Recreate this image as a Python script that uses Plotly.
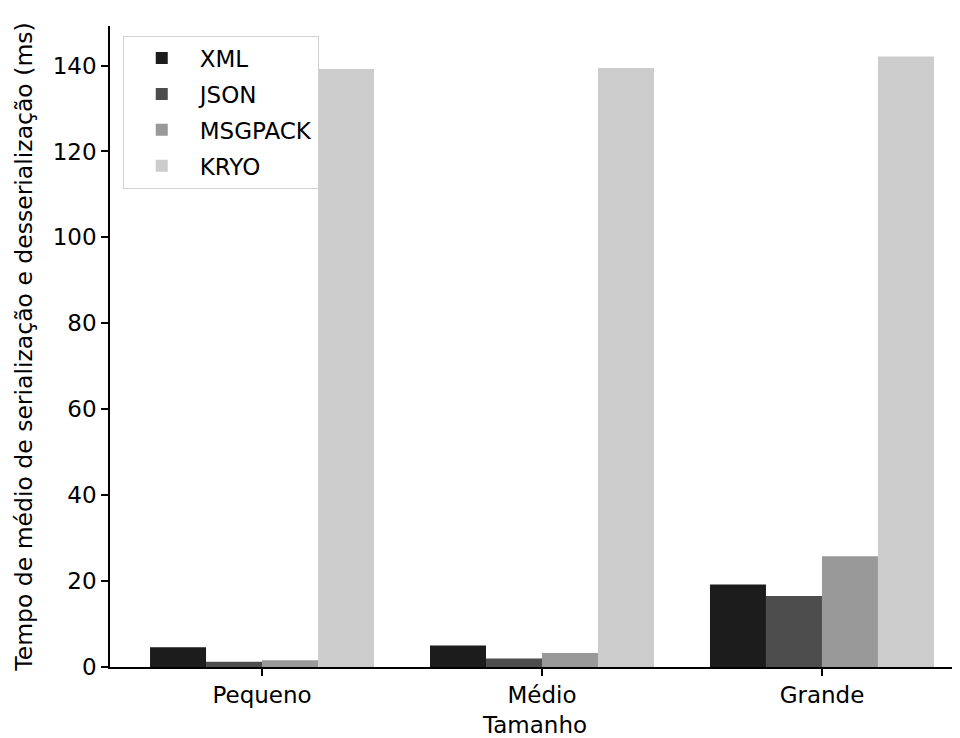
import plotly.graph_objects as go

categories = ["Pequeno", "Médio", "Grande"]
series_names = ["XML", "JSON", "MSGPACK", "KRYO"]
xml_vals = [4.6, 5.0, 19.2]
json_vals = [1.25, 2.0, 16.5]
msgpack_vals = [1.55, 3.25, 25.8]
kryo_vals = [139.2, 139.4, 142.1]
colors = ["#1c1c1c", "#4d4d4d", "#999999", "#cccccc"]

values = [xml_vals, json_vals, msgpack_vals, kryo_vals]
fig = go.Figure()
bar_w = 0.2
for i, (name, vals, col) in enumerate(zip(series_names, values, colors)):
    offset = (i - 1.5) * bar_w
    fig.add_trace(go.Bar(
        x=[k + offset for k in range(len(categories))],
        y=vals, name=name, width=bar_w, legendgroup=name,
        marker=dict(color=col, line=dict(width=0)),
    ))

font = "DejaVu Sans"
fig.update_layout(
    width=952, height=730,
    margin=dict(l=102, r=0, t=18, b=71, autoexpand=False),
    paper_bgcolor="white", plot_bgcolor="white",
    font=dict(family=font, size=23, color="black"),
    barmode="overlay",
    showlegend=True,
    legend=dict(
        x=0.015, y=0.985, xanchor="left", yanchor="top",
        bgcolor="rgba(255,255,255,0.8)", bordercolor="#d0d0d0", borderwidth=1,
        font=dict(size=23), traceorder="grouped", tracegroupgap=3, itemwidth=66,
    ),
    xaxis=dict(
        range=[-0.543, 2.493],
        tickmode="array", tickvals=list(range(len(categories))), ticktext=categories,
        showline=True, linecolor="black", linewidth=1.5,
        ticks="outside", ticklen=7, tickwidth=1.5, tickcolor="black",
        showgrid=False, zeroline=False, automargin=True,
        title=dict(text="Tamanho", standoff=12, font=dict(size=23)),
    ),
    yaxis=dict(
        range=[0, 149.2],
        tickvals=[0, 20, 40, 60, 80, 100, 120, 140],
        showline=True, linecolor="black", linewidth=1.5,
        ticks="outside", ticklen=7, tickwidth=1.5, tickcolor="black",
        showgrid=False, zeroline=False, automargin=False,
        title=dict(text="Tempo de médio de serialização e desserialização (ms)", standoff=14, font=dict(size=23.5)),
    ),
)

fig.write_html("out.html")
